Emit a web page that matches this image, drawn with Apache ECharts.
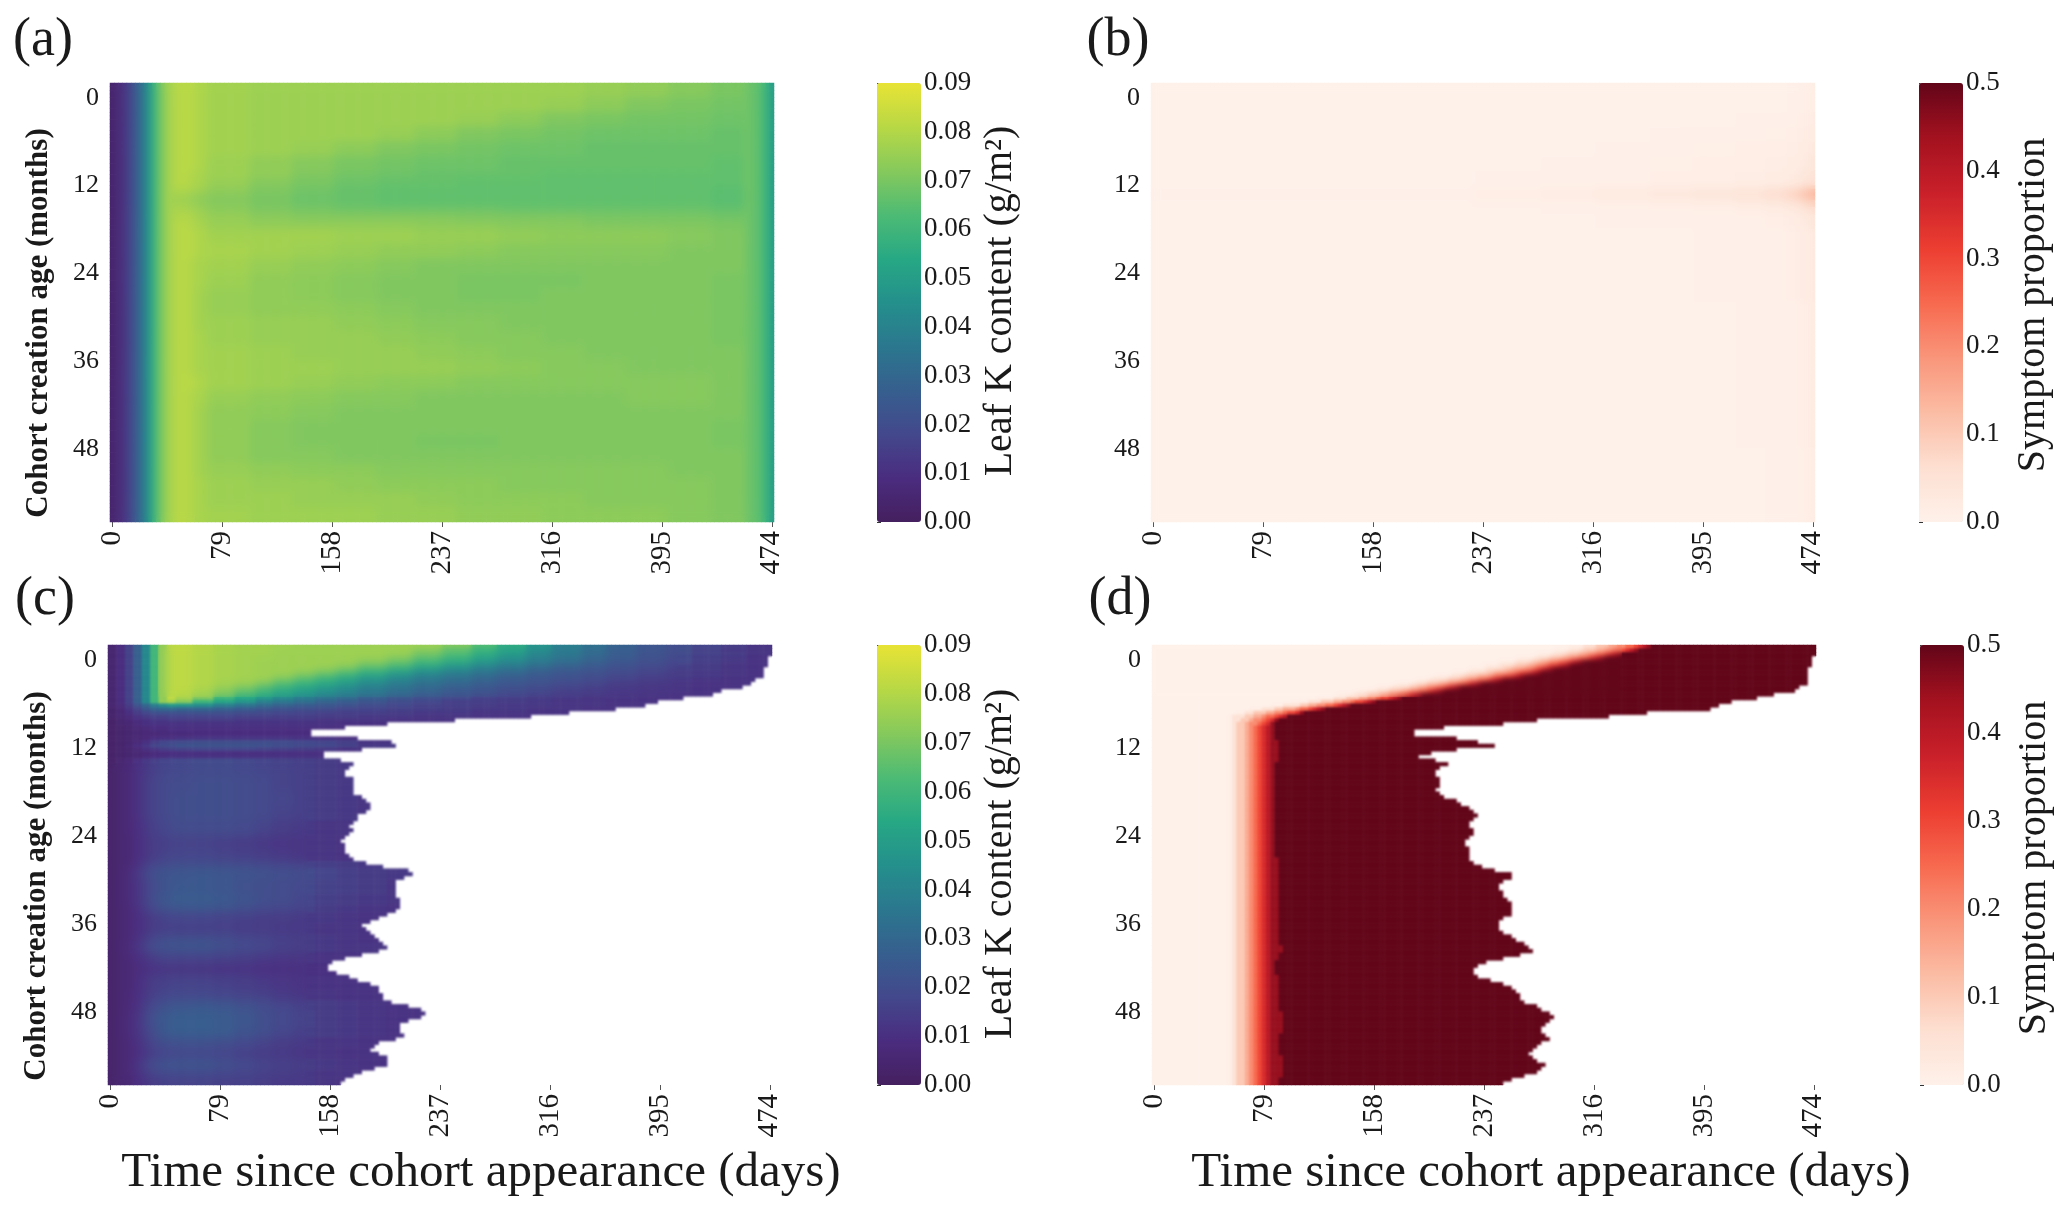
<!DOCTYPE html>
<html><head><meta charset="utf-8">
<style>html,body{margin:0;padding:0;background:#fff}#wrap{position:relative;width:2067px;height:1214px}#c{width:2067px;height:1214px}.soft{position:absolute}</style>
<script src="https://cdn.jsdelivr.net/npm/echarts@6/dist/echarts.min.js"></script>
</head><body><div id="wrap"><div id="c"></div></div>
<script>
// ---------- DATA: values (leaf K in 0.001 g/m2, symptom in 0.001) ----------
const tickDays = [0,79,158,237,316,395,474];
const tickMonths = [0,12,24,36,48];
const leafTicks = [0,0.01,0.02,0.03,0.04,0.05,0.06,0.07,0.08,0.09];
const symptomTicks = [0,0.1,0.2,0.3,0.4,0.5];

// Panel (a)
const aLeftEnds = [3,6,9,12,15,18,21,24,27,30,33,36,39,42,45];
const aLeftVals = [4,5,8,12,16,21,27,33,41,50,59,66,72,76,78];
const aMidEnds = [48,54,60,70,100,130,160,190,220,250,280,310,340,370,400,430,455];
const aRightEnds = [460,464,468,471,474,477];
const aRightVals = [69,67,65,62,57,50];
const aRowMonths = [0,2,4,6,8,10,12,13,14,15,16,17,18,19,20,22,24,26,28,30,32,34,36,38,40,42,44,46,48,50,52,54,56,58];
const aRows = [
[80,81,81,79,77,76,76,76,76,76,76,76,76,75,74,72,70],
[80,81,81,79,77,76,76,76,76,76,76,76,75,73,71,70,69],
[80,81,81,79,77,76,76,76,76,76,75,73,71,70,69,69,68],
[80,81,81,79,77,76,76,76,75,73,71,70,69,68,68,68,67],
[80,81,81,79,77,76,75,73,71,70,69,68,68,67,67,67,67],
[80,81,81,79,76,74,72,70,69,68,68,67,67,67,67,67,66],
[80,81,80,78,76,74,71,69,68,67,67,67,66,66,66,66,66],
[80,81,80,78,75,72,70,68,67,67,66,66,66,66,66,66,66],
[79,80,79,77,74,71,69,67,66,66,66,66,66,66,66,66,65],
[76,77,76,74,72,70,68,67,66,66,66,66,66,66,66,66,65],
[76,77,76,74,72,70,68,67,66,66,66,66,66,66,66,66,65],
[78,79,78,76,73,71,70,69,69,69,69,68,68,68,68,68,67],
[79,80,80,77,75,73,72,72,72,72,71,71,71,70,70,70,69],
[80,81,80,78,75,74,74,74,74,73,73,72,72,71,71,71,70],
[80,81,81,79,77,77,77,76,76,75,75,74,73,73,73,72,71],
[80,81,81,79,78,77,76,75,74,74,73,72,72,72,72,71,71],
[80,81,80,78,77,75,74,73,72,71,71,71,71,71,71,71,71],
[80,81,80,78,76,74,73,72,71,71,70,70,70,71,71,71,70],
[80,81,80,77,75,74,73,72,71,71,70,70,71,71,71,71,70],
[80,81,80,77,75,74,74,73,72,71,71,71,71,71,71,71,70],
[80,81,80,77,76,75,75,74,73,72,72,71,71,71,71,71,70],
[80,81,80,78,76,75,75,75,74,73,72,72,71,71,71,71,70],
[80,81,80,78,77,76,75,75,75,74,73,72,72,71,71,71,71],
[80,81,80,78,77,76,76,75,75,75,74,73,72,72,71,71,71],
[80,81,81,79,77,76,75,74,73,73,72,72,72,72,72,72,71],
[80,81,80,78,75,74,73,72,72,71,71,71,71,71,72,72,71],
[80,81,80,77,74,73,72,71,71,71,71,71,71,71,71,71,71],
[80,81,80,77,74,72,71,71,71,71,71,71,71,71,71,71,70],
[80,81,80,77,74,72,71,71,71,70,70,71,71,71,71,71,70],
[80,81,80,77,74,72,72,71,71,71,71,71,71,71,71,71,71],
[80,81,80,77,75,74,73,73,72,72,72,72,72,72,72,71,71],
[80,81,80,78,76,75,75,74,73,73,73,72,72,72,72,72,71],
[80,81,80,78,76,76,75,75,75,74,73,73,73,72,72,72,71],
[80,81,80,78,77,76,76,76,75,75,74,74,73,73,73,72,71]
];

// Panel (b)
const bEnds = [230,280,320,360,390,420,440,455,465,470,477];
const bRowMonths = [0,4,6,8,10,12,14,14.5,15,15.5,16,17,18,20,30,50];
const bRows = [
[0,0,0,0,0,0,0,0,2,6,12],
[0,0,0,0,0,0,2,4,6,10,16],
[0,0,0,0,2,4,6,8,10,14,20],
[0,0,0,2,5,8,10,12,14,18,28],
[0,0,2,4,7,10,12,14,18,24,36],
[0,2,4,6,9,12,14,18,24,34,48],
[0,4,8,12,16,20,26,34,44,60,84],
[3,10,15,22,28,35,42,54,72,94,118],
[6,14,20,28,34,42,50,66,84,106,128],
[3,10,15,22,28,35,42,54,72,94,118],
[0,4,6,10,14,18,24,32,44,60,84],
[0,0,2,4,6,8,12,18,26,36,54],
[0,0,0,2,2,4,6,10,16,24,34],
[0,0,0,0,0,2,4,6,10,16,24],
[0,0,0,0,0,0,2,4,6,10,18],
[0,0,0,0,0,0,0,2,4,8,14]
];

// Panel (c): last day present in each half-month row
const cExtent = [478,477,476,475,474,473,472,471,470,466,462,455,440,433,412,395,385,365,331,304,
250,201,170,147,147,179,205,207,181,154,154,168,175,173,170,171,175,175,
175,176,177,182,184,187,188,186,180,178,175,174,175,174,170,168,170,171,171,172,176,186,198,216,219,213,208,207,207,207,208,210,210,210,208,200,193,187,183,184,187,190,195,199,200,195,181,171,162,158,158,163,172,180,188,193,195,196,197,205,217,225,227,224,215,211,210,211,212,208,195,192,189,195,200,201,200,190,182,176,170,168];
const cTopEnds = [6,12,18,24,30,36,42,48,60,75,90,105,120,135,150,165,180,200,220,240,260,280,300,320,340,360,380,400,420,440,460,477];
const cTopRows = [
[5,9,16,27,42,60,74,82,82,80,78,77,77,77,76,76,76,76,76,76,72,64,56,47,39,33,28,23,20,17,14,12],
[5,9,16,27,42,60,74,82,82,80,78,77,77,76,76,76,76,76,76,73,66,59,52,44,37,32,26,23,20,16,13,12],
[5,9,16,27,42,60,74,82,82,80,78,77,77,76,76,76,76,76,76,69,63,55,48,41,36,31,26,22,19,16,14,12],
[5,9,16,27,42,60,74,82,82,80,78,77,77,76,76,76,76,76,72,65,59,52,46,39,34,29,25,21,18,15,13,11],
[5,9,16,27,42,60,74,82,82,80,78,77,76,76,76,76,76,73,68,62,56,50,43,38,33,28,24,21,18,15,13,11],
[5,9,16,27,42,60,74,82,82,80,78,77,76,76,76,76,75,69,64,56,50,43,38,33,29,25,22,19,16,14,12,11],
[5,9,16,27,42,60,74,82,82,80,78,77,76,76,76,75,70,63,57,50,44,38,34,29,25,23,20,18,15,14,12,11],
[5,9,16,27,42,60,74,82,82,80,78,77,76,76,75,70,64,57,50,44,39,34,30,26,23,21,19,16,14,13,12,11],
[5,9,16,27,42,60,74,82,82,80,78,77,77,76,69,63,57,51,45,39,35,31,27,24,22,20,18,16,14,13,12,11],
[5,9,16,27,42,60,74,82,82,80,78,77,76,69,63,58,53,47,41,36,32,29,25,23,21,19,16,14,13,12,11,11],
[5,9,16,27,42,60,74,82,82,80,77,76,71,64,59,54,49,43,37,33,30,26,23,21,19,17,14,13,12,11,11,11],
[5,9,16,27,42,60,74,82,82,80,76,72,65,59,54,50,45,39,35,31,27,24,22,20,17,15,13,12,12,11,11,11],
[5,9,16,27,42,60,74,82,82,78,73,66,60,55,51,46,41,37,33,29,25,23,20,18,15,14,13,12,12,11,11,11],
[5,9,16,27,42,60,74,82,80,76,68,60,55,50,45,40,37,33,29,25,22,20,17,15,14,13,12,12,11,11,11,11],
[5,9,16,27,42,60,74,82,78,71,60,54,48,43,38,35,32,27,24,21,19,16,15,14,13,12,12,11,11,11,11,11],
[5,9,16,27,42,60,74,78,72,60,53,47,40,36,33,29,26,23,20,18,15,15,14,13,12,12,11,11,11,11,11,11],
[5,8,14,22,30,38,44,48,47,44,39,35,31,28,26,24,22,20,18,16,15,14,13,13,12,12,11,11,11,11,11,11],
[4,7,12,17,24,29,31,32,30,30,28,26,24,22,21,20,18,17,16,15,14,13,13,12,12,11,11,11,11,11,11,11],
[4,6,10,14,18,21,22,22,22,22,21,20,19,18,17,16,15,15,14,13,13,12,12,11,11,11,11,11,11,11,11,11],
[4,6,8,11,14,16,16,17,17,17,17,16,16,15,15,14,14,13,13,12,12,11,11,11,11,11,11,11,11,11,11,11],
[3,5,7,9,11,13,13,14,14,14,14,13,13,13,13,12,12,12,11,11,11,11,11,11,11,11,11,11,11,11,11,11],
[3,5,6,8,10,11,11,11,11,11,11,11,11,11,11,11,10,10,10,10,10,10,10,10,10,10,10,10,10,10,10,10],
[3,4,5,7,8,9,9,10,10,10,10,10,10,10,10,10,10,10,10,10,10,10,10,10,10,10,10,10,10,10,10,10],
[3,4,5,6,7,8,8,9,9,9,9,9,9,9,9,9,9,9,9,9,9,9,9,9,9,9,9,9,9,9,9,9],
[3,4,5,6,7,7,8,8,8,9,9,9,9,9,9,9,9,9,9,9,9,9,9,9,9,9,9,9,9,9,9,9],
[3,4,5,6,7,9,10,10,11,12,12,12,12,12,11,11,10,10,10,10,10,10,10,10,10,10,10,10,10,10,10,10],
[3,4,5,7,10,14,17,18,19,20,20,20,20,19,18,17,15,12,12,12,12,12,12,12,12,12,12,12,12,12,12,12],
[3,4,6,9,13,17,19,20,22,22,22,22,21,20,19,18,16,13,13,13,13,13,13,13,13,13,13,13,13,13,13,13],
[3,4,5,7,10,12,14,15,16,17,17,17,16,15,14,13,11,11,11,11,11,11,11,11,11,11,11,11,11,11,11,11],
[3,4,5,6,7,8,9,9,10,10,10,10,10,10,10,10,10,10,10,10,10,10,10,10,10,10,10,10,10,10,10,10],
[3,4,5,6,8,9,10,11,11,11,11,11,11,11,11,11,11,11,11,11,11,11,11,11,11,11,11,11,11,11,11,11]
];
const cLowEnds = [6,12,18,24,30,36,45,60,75,90,105,120,135,150,165,180,200,230];
const cLowMonths = [15.5,18,20,22,24,26,28,29.5,30.5,32,34,35.5,36.5,38,39.5,40.5,42,43.5,45,47,48.5,50,52,53.5,55,56.5,58,59];
const cLowRows = [
[3,5,7,10,13,15,17,18,19,19,18,17,16,15,14,13,12,12],
[3,5,7,10,14,16,18,19,20,20,19,18,16,15,14,13,12,12],
[3,5,7,10,14,16,18,20,20,20,19,18,17,15,14,13,12,12],
[3,5,7,10,14,16,18,20,20,20,19,18,16,15,14,13,12,12],
[3,5,7,9,13,15,17,19,19,19,18,16,14,13,12,12,12,12],
[3,5,6,9,12,14,15,16,16,15,14,13,12,12,12,11,11,11],
[3,5,6,9,12,14,16,17,17,16,15,14,13,12,12,11,11,11],
[3,5,7,10,15,17,19,20,20,20,19,18,17,16,15,14,13,12],
[3,5,8,12,17,20,22,23,24,23,22,21,20,19,17,15,14,13],
[3,5,8,11,16,19,22,24,24,23,21,20,19,18,16,15,14,12],
[3,5,8,11,16,20,23,25,25,24,22,20,19,17,15,14,13,12],
[3,5,7,10,15,18,21,23,23,22,20,18,17,16,14,13,12,11],
[3,5,7,9,12,14,16,17,17,16,15,14,14,13,13,12,11,11],
[3,5,7,9,12,14,15,15,15,15,14,14,13,13,12,12,11,11],
[3,5,7,10,14,17,19,20,20,19,17,16,15,14,13,12,11,11],
[3,5,8,11,16,19,21,22,22,20,18,17,15,14,13,12,12,11],
[3,5,7,9,12,14,16,16,16,15,14,13,12,12,11,11,11,11],
[3,5,6,8,10,11,12,12,12,11,11,10,10,10,10,10,10,10],
[3,5,6,9,12,14,15,16,16,15,14,13,12,11,11,11,11,11],
[3,5,7,9,13,15,17,18,18,17,16,15,13,12,12,11,11,11],
[3,5,7,10,15,18,21,23,24,23,21,19,17,15,14,13,12,11],
[3,5,8,11,17,21,24,26,26,25,23,20,18,16,14,13,12,11],
[3,5,8,11,16,20,24,26,26,25,22,20,17,15,14,13,12,11],
[3,5,7,10,14,17,20,21,21,20,18,16,14,13,12,12,11,11],
[3,5,7,9,13,15,17,18,18,17,15,14,13,12,12,11,11,11],
[3,5,7,11,16,19,21,22,22,20,18,16,15,14,13,12,11,11],
[3,5,7,10,14,16,18,18,18,17,16,15,14,13,12,12,11,11],
[3,5,6,9,12,14,15,16,16,15,15,14,13,13,12,11,11,11]
];

// Panel (d)
const dExtent = [478,477,476,475,474,473,472,471,470,470,470,466,463,447,433,416,408,400,356,329,
275,251,210,188,188,218,235,247,218,202,191,204,213,207,204,204,206,207,208,
204,207,209,219,223,228,232,234,231,229,229,231,231,227,226,224,227,228,228,229,231,238,246,259,258,252,250,250,251,253,255,257,258,259,258,253,248,248,248,252,257,262,267,270,272,265,252,241,234,232,232,235,244,252,258,262,263,265,267,275,281,286,288,286,283,280,280,283,286,281,276,272,270,273,278,283,281,275,266,257,252,250];
const dLevels = [10,50,100,150,200,250,300,350,400,450,500];
const dTopRows = [
[298,310,320,328,335,341,346,350,353,356,359],
[288,300,311,319,326,332,337,341,344,347,350],
[276,288,299,307,314,320,325,329,332,335,338],
[263,275,286,294,301,307,312,316,319,322,325],
[250,262,272,280,287,293,298,302,305,308,311],
[238,250,261,269,276,282,287,291,294,297,300],
[228,240,251,259,266,272,277,281,284,287,290],
[216,228,239,247,255,260,265,270,273,276,279],
[203,215,226,234,242,247,252,257,260,263,266],
[190,202,213,221,228,234,239,243,246,249,252],
[176,188,198,206,213,219,224,228,231,234,237],
[162,174,184,192,199,205,210,214,217,220,223],
[148,160,170,178,185,191,196,200,203,206,209],
[134,146,156,164,171,176,181,185,188,191,194],
[118,130,140,148,155,160,165,169,172,175,178],
[101,112,122,130,137,142,147,152,154,157,160],
[85,95,105,113,120,125,130,134,137,140,143],
[70,78,87,95,102,107,112,116,118,121,124],
[60,66,74,82,89,93,98,102,105,107,110],
[55,58,66,72,78,82,87,91,94,96,98],
[55,58,64,69,74,78,81,84,87,88,90],
[55,58,62,67,71,75,78,81,84,86,88],
[55,58,62,66,70,73,77,80,83,85,87],
[55,58,62,66,70,73,77,80,83,85,88]
];
const dLowFade = [55,58,62,66,70,73,77,80,82,85];
const dDarkStart = [88,90,92,90,88,88,88,89,89,89,89,89,89,89,89,89,89,90,91,92,92,91,91,91,91,91,91,91,92,93,91,89,89,90,90,90,91,92,94,94,93,91,90,91,93,94,93,91];

// Colour ramps sampled from the two colour bars
const viridisRamp = ['#45205f','#4a2c7f','#43488c','#365f8e','#2b778e','#24908c','#27a884','#4dbb74','#86c95c','#b8d845','#e8e335'];
const redsRamp = ['#fef1ea','#fddfd1','#fbbca4','#f9957a','#f7694f','#ec3d31','#c9202a','#a4111f','#620519'];

// ---------- cell grid ----------
const COLS = 157, ROWS = 120;
const xCats = Array.from({length:COLS},(_,k)=>String(Math.round(k*79/26)));
const yCats = Array.from({length:ROWS},(_,i)=>String(i/2));
const dayOf = k => (k+0.5)*79/26;
const monthOf = i => i/2;
const firstAbove = (ends,d)=>{for(let i=0;i<ends.length;i++) if(d<ends[i]) return i; return ends.length-1;};
const lastAtOrBelow = (starts,m)=>{let r=0;for(let i=0;i<starts.length;i++) if(starts[i]<=m) r=i; return r;};

const aEnds = [...aLeftEnds,...aMidEnds,...aRightEnds];
function build(fn){const out=[];for(let i=0;i<ROWS;i++)for(let k=0;k<COLS;k++){const v=fn(dayOf(k),monthOf(i),i);if(v!==null)out.push([k,i,v]);}return out;}
const dataA = build((d,m)=>{const r=[...aLeftVals,...aRows[lastAtOrBelow(aRowMonths,m)],...aRightVals];return r[firstAbove(aEnds,d)]/1000;});
const dataB = build((d,m)=>bRows[lastAtOrBelow(bRowMonths,m)][firstAbove(bEnds,d)]/1000);
const dataC = build((d,m,i)=>{
  if(d>cExtent[i]) return null;
  if(i<cTopRows.length) return cTopRows[i][firstAbove(cTopEnds,d)]/1000;
  return cLowRows[lastAtOrBelow(cLowMonths,m)][firstAbove(cLowEnds,d)]/1000;
});
const dataD = build((d,m,i)=>{
  if(d>dExtent[i]) return null;
  let pos;
  if(i<dTopRows.length) pos=dTopRows[i];
  else pos=[...dLowFade,dDarkStart[Math.floor(m)-12]];
  let v=0;for(let j=0;j<pos.length;j++) if(d>=pos[j]) v=dLevels[j];
  return v/1000;
});

// ---------- option ----------
const FONT='Liberation Serif';
const panels=[
 {x:110,y:83,w:664,h:439,data:dataA,max:0.09,ramp:viridisRamp,barX:877,soft:4},
 {x:1151,y:83,w:664,h:439,data:dataB,max:0.5,ramp:redsRamp,barX:1919,soft:4},
 {x:108,y:645,w:664,h:440,data:dataC,max:0.09,ramp:viridisRamp,barX:877,soft:1},
 {x:1152,y:645,w:664,h:440,data:dataD,max:0.5,ramp:redsRamp,barX:1920,soft:1}
];
const xShow=k=>tickDays.includes(+xCats[k]);
const yShow=i=>tickMonths.includes(i/2);
const grid=[],xAxis=[],yAxis=[],series=[],visualMap=[];
panels.forEach((p,n)=>{
  grid.push({left:p.x,top:p.y,width:p.w,height:p.h});
  xAxis.push({type:'category',gridIndex:n,data:xCats,axisLine:{show:false},
    axisTick:{show:true,alignWithLabel:true,length:5,interval:(k)=>xShow(k),lineStyle:{color:'#555',width:1}},
    axisLabel:{rotate:90,margin:9,interval:(k)=>xShow(k),fontFamily:FONT,fontSize:29,color:'#1a1a1a'}});
  yAxis.push({type:'category',gridIndex:n,inverse:true,data:yCats,axisLine:{show:false},axisTick:{show:false},
    axisLabel:{margin:11,interval:(i)=>yShow(i),verticalAlign:'top',fontFamily:FONT,fontSize:26,color:'#1a1a1a'}});
  series.push({type:'heatmap',xAxisIndex:n,yAxisIndex:n,data:p.data,silent:true,progressive:0,emphasis:{disabled:true}});
  visualMap.push({type:'continuous',seriesIndex:n,dimension:2,min:0,max:p.max,calculable:false,hoverLink:false,realtime:false,
    orient:'vertical',left:p.barX,top:p.y,itemWidth:44,itemHeight:p.h,padding:0,text:null,showLabel:false,
    inRange:{color:p.ramp},textStyle:{fontSize:0}});
});
panels.forEach((p,n)=>{
  const g=n+4;
  grid.push({left:p.barX,top:p.y,width:44,height:p.h});
  xAxis.push({type:'value',gridIndex:g,show:false,min:0,max:1});
  const isLeaf=p.max<0.2;
  yAxis.push({type:'value',gridIndex:g,position:'right',min:0,max:p.max,interval:isLeaf?leafTicks[1]:symptomTicks[1],splitLine:{show:false},axisLine:{show:false},
    axisTick:{show:true,length:4,lineStyle:{color:'#333'}},
    axisLabel:{margin:3,fontFamily:FONT,fontSize:27,color:'#1a1a1a',formatter:v=>v.toFixed(isLeaf?2:1)}});
});
const txt=(t,x,y,size,rot,weight)=>({type:'text',x,y,rotation:rot?Math.PI/2:0,silent:true,
  style:{text:t,fontFamily:FONT,fontSize:size,fontWeight:weight||'normal',fill:'#1a1a1a',textAlign:'center',textVerticalAlign:'middle'}});
const graphic=[
 txt('(a)',43,41,54),txt('(b)',1118,41,54),txt('(c)',45,600,54),txt('(d)',1120,600,54),
 txt('Cohort creation age (months)',39,323,31,true,'bold'),
 txt('Cohort creation age (months)',37,886,31,true,'bold'),
 txt('Leaf K content (g/m²)',1000,301,40,true),
 txt('Leaf K content (g/m²)',1000,864,40,true),
 txt('Symptom proportion',2033,305,40,true),
 txt('Symptom proportion',2034,868,40,true),
 txt('Time since cohort appearance (days)',481,1173,49),
 txt('Time since cohort appearance (days)',1551,1173,49)
];
const chart=echarts.init(document.getElementById('c'),null,{renderer:'canvas',width:2067,height:1214});
chart.setOption({animation:false,backgroundColor:'#fff',grid,xAxis,yAxis,visualMap,series,graphic});

// Soften the cell edges over each map, like the resampled original
function soften(x,y,w,h,r){
  const el=document.createElement('div');el.className='soft';
  el.style.cssText=`left:${x}px;top:${y}px;width:${w}px;height:${h}px;backdrop-filter:blur(${r}px);-webkit-backdrop-filter:blur(${r}px)`;
  document.getElementById('wrap').appendChild(el);
}
panels.forEach(p=>soften(p.x,p.y,p.w,p.h,p.soft));
soften(panels[2].x,panels[2].y+118,200,panels[2].h-118,4);
soften(panels[2].x+50,panels[2].y,520,52,4);
soften(panels[3].x,panels[3].y,470,52,2);
</script></body></html>
